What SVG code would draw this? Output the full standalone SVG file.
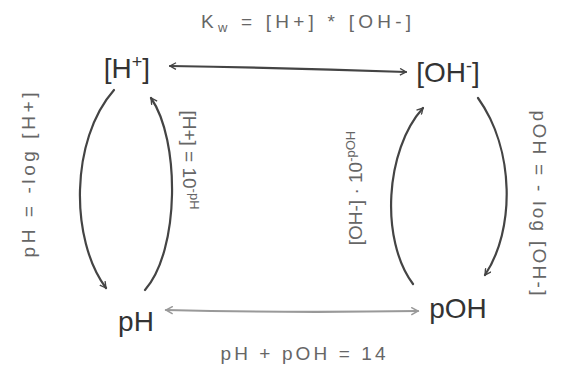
<svg xmlns="http://www.w3.org/2000/svg" width="568" height="368" viewBox="0 0 568 368">
<style>
.node{font-family:"Liberation Sans",Arial,sans-serif;font-size:28px;fill:#333}
.lbl{font-family:"Liberation Sans",Arial,sans-serif;font-size:19px;fill:#666}
.c{fill:none;stroke:#444;stroke-width:2.2;stroke-linecap:round}
.cl{fill:none;stroke:#999;stroke-width:2.2;stroke-linecap:round}
</style>
<defs>
<marker id="ah" viewBox="0 0 12 12" refX="10" refY="6" markerWidth="8" markerHeight="8" orient="auto-start-reverse" markerUnits="userSpaceOnUse">
<path d="M1,1 L10,6 L1,11" fill="none" stroke="#444" stroke-width="2"/>
</marker>
<marker id="ahl" viewBox="0 0 12 12" refX="10" refY="6" markerWidth="9" markerHeight="9" orient="auto-start-reverse" markerUnits="userSpaceOnUse">
<path d="M1,1 L10,6 L1,11" fill="none" stroke="#999" stroke-width="2"/>
</marker>
</defs>
<rect width="568" height="368" fill="#fff"/>
<g id="connectors">
<path class="c" d="M170,66 Q290,68 406,72" marker-start="url(#ah)" marker-end="url(#ah)"/>
<path class="cl" d="M166,310 Q290,313 418,311" marker-start="url(#ahl)" marker-end="url(#ahl)"/>
<path class="c" d="M114,90 C70,140 70,240 106,288" marker-end="url(#ah)"/>
<path class="c" d="M145,290 C180,250 180,140 151,98" marker-end="url(#ah)"/>
<path class="c" d="M413,284 C380,240 385,150 423,108" marker-end="url(#ah)"/>
<path class="c" d="M478,98 C515,150 515,230 485,275" marker-end="url(#ah)"/>
</g>
<g id="n-h">
<text class="node" x="127" y="78" text-anchor="middle">[H<tspan font-size="18" dy="-10">+</tspan><tspan dy="10">]</tspan></text>
</g>
<g id="n-oh">
<text class="node" x="448" y="82" text-anchor="middle">[OH<tspan font-size="18" dy="-10">-</tspan><tspan dy="10">]</tspan></text>
</g>
<g id="n-ph">
<text class="node" x="136" y="331" text-anchor="middle">pH</text>
</g>
<g id="n-poh">
<text class="node" x="458" y="318" text-anchor="middle">pOH</text>
</g>
<g id="labels">
<text class="lbl" x="306" y="28" text-anchor="middle" textLength="210" lengthAdjust="spacing">K<tspan font-size="13" dy="4">w</tspan><tspan dy="-4"> = [H+] * [OH-]</tspan></text>
<text class="lbl" x="303" y="360" text-anchor="middle" textLength="165" lengthAdjust="spacing">pH + pOH = 14</text>
<text class="lbl" transform="translate(35,175) rotate(-90)" text-anchor="middle" textLength="165" lengthAdjust="spacing">pH = -log [H+]</text>
<text class="lbl" transform="translate(183,160) rotate(90)" text-anchor="middle">[H+] = 10<tspan font-size="13" dy="-7">-pH</tspan></text>
<text class="lbl" transform="translate(362,188) rotate(-90)" text-anchor="middle">[OH-] · 10<tspan font-size="13" dy="-7">-pOH</tspan></text>
<text class="lbl" transform="translate(533,203) rotate(90)" text-anchor="middle" textLength="185" lengthAdjust="spacing">pOH = - log [OH-]</text>
</g>
</svg>
